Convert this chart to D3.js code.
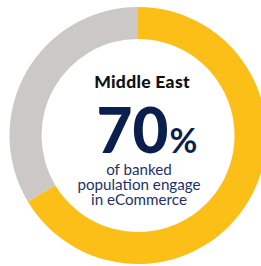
<!DOCTYPE html>
<html><head><meta charset="utf-8">
<script src="https://cdn.jsdelivr.net/npm/d3@7"></script>
<style>html,body{margin:0;padding:0;background:#fff;overflow:hidden}</style>
</head><body>
<svg id="c" width="261" height="266"></svg>
<script>
const categories = ["Engage in eCommerce", "Other"];
const values = [66.4, 33.6];
const colors = ["#FBBF18", "#CCC8C5"];
const title = "Middle East";
const bigNumber = "70";
const bigUnit = "%";
const subtitleLines = ["of banked", "population engage", "in eCommerce"];

const svg = d3.select("#c");
const cx = 138, cy = 135.5, rOuter = 128.5, rInner = 96.5;
const g = svg.append("g").attr("transform", `translate(${cx},${cy})`);
const pie = d3.pie().sort(null).value(d => d)(values);
const arc = d3.arc().innerRadius(rInner).outerRadius(rOuter);
g.selectAll("path").data(pie).join("path")
  .attr("d", arc).attr("fill", (d, i) => colors[i]);

g.append("text").attr("x", 4).attr("y", -47.5).attr("text-anchor", "middle")
  .attr("font-family", "Lato").attr("font-weight", 900).attr("font-size", 17.5)
  .attr("letter-spacing", 0.3).attr("fill", "#111").text(title);

const t = g.append("text").attr("x", 9).attr("y", 17.5).attr("text-anchor", "middle")
  .attr("font-family", "Lato").attr("font-weight", 900).attr("fill", "#0B1F4E");
t.append("tspan").attr("font-size", 62).text(bigNumber);
t.append("tspan").attr("font-size", 34).attr("font-weight", 700).attr("dx", 1).text(bigUnit);

subtitleLines.forEach((s, i) => {
  g.append("text").attr("x", 1).attr("y", 39.5 + i * 15).attr("text-anchor", "middle")
    .attr("font-family", "Lato").attr("font-size", 15.2).attr("fill", "#1F3166").text(s);
});
</script>
</body></html>
